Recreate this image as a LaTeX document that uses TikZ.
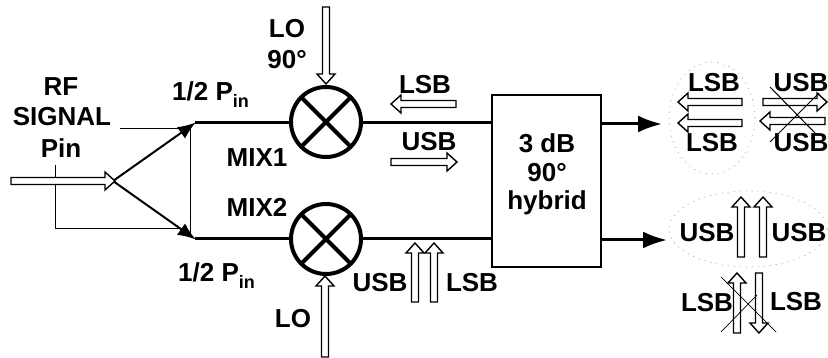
\documentclass[tikz,border=0pt]{standalone}
\usepackage{fontspec}
\setmainfont{Liberation Sans}
\usepackage{tikz}
\usetikzlibrary{arrows.meta,shapes.arrows,shapes.geometric,positioning,calc}

\newcommand{\Pin}{1/2 P\raisebox{-7pt}{\fontsize{18}{18}\selectfont in}}

\begin{document}
\begin{tikzpicture}[
    x=1pt, y=-1pt,
    lab/.style={inner sep=0pt, font=\fontsize{26}{30}\selectfont\bfseries},
    hollow/.style={draw, single arrow, fill=white, line width=1.4pt, inner xsep=0pt, inner ysep=2.8pt, outer sep=0pt, single arrow head extend=5.5pt, single arrow head indent=0pt, single arrow tip angle=84, anchor=tail},
    mixer/.style={draw, circle, line width=4pt, minimum size=70pt, inner sep=0pt, outer sep=0pt, path picture={\draw[line width=4pt] (path picture bounding box.north west) -- (path picture bounding box.south east) (path picture bounding box.south west) -- (path picture bounding box.north east);}},
    hybridbox/.style={draw, line width=2.5pt, minimum width=109pt, minimum height=172pt, inner sep=0pt, outer sep=0pt},
    wire/.style={line width=3pt},
    split/.style={-{Latex[length=18pt,width=14pt]}, line width=2pt, shorten >=-1pt},
    outarr/.style={-{Latex[length=24pt,width=17pt]}, line width=3pt},
    thinline/.style={line width=1pt},
    lobe/.style={dash pattern=on 1pt off 5pt, line width=0.6pt, black!40}
]
\useasboundingbox (0,0) rectangle (828,358);

% dotted lobes
\node[lobe, draw, ellipse, minimum width=86pt, minimum height=112pt, inner sep=0pt] (lobeA) at (712,118) {};
\node[lobe, draw, ellipse, minimum width=158pt, minimum height=76pt, inner sep=0pt] (lobeB) at (748,229) {};

% mixers and hybrid
\node[mixer] (mix1) at (326,122) {};
\node[mixer] (mix2) at (326,239) {};
\node[hybridbox] (hyb) at (546.5,181) {};
\node[lab] (hybA) at (547,143) {3 dB};
\node[lab] (hybB) at (547,173) {90\textdegree};
\node[lab] (hybC) at (547,203) {hybrid};

% splitter
\coordinate (fork) at (113,181);
\coordinate (upin) at (195,123);
\coordinate (lowin) at (195,239);
\draw[split] (fork) -- (upin);
\draw[split] (fork) -- (lowin);
\draw[wire] (upin) -- (mix1.west |- upin);
\draw[wire] (lowin) -- (mix2.west);
\draw[wire] (mix1.east |- upin) -- (hyb.west |- upin);
\draw[wire] (mix2.east) -- (hyb.west |- mix2);
\coordinate (vtop) at (190,126);
\coordinate (vbot) at (190,236);
\draw[thinline] (vtop) -- (vbot);

% leaders
\coordinate (leadA) at (120,129);
\coordinate (leadAe) at (181,129);
\coordinate (leadB) at (55,165);
\coordinate (leadBc) at (55,229);
\coordinate (leadBe) at (181,229);
\draw[thinline] (leadA) -- (leadAe);
\draw[thinline] (leadB) -- (leadBc) -- (leadBe);

% outputs
\coordinate (outA) at (662,124);
\coordinate (outB) at (667,240);
\draw[outarr] (hyb.east |- outA) -- (outA);
\draw[outarr] (hyb.east |- outB) -- (outB);

% hollow arrows
\node[hollow, minimum height=104pt] (rfin) at (11,181) {};
\node[hollow, minimum height=77pt, rotate=-90] (loA) at (326,7) {};
\node[hollow, minimum height=81pt, rotate=90] (loB) at (325,357) {};
\node[hollow, minimum height=65pt, rotate=180] (lsbA) at (456,104) {};
\node[hollow, minimum height=66pt] (usbA) at (391,162) {};
\node[hollow, minimum height=59pt, rotate=90] (upA) at (415,302) {};
\node[hollow, minimum height=59pt, rotate=90] (upB) at (434,302) {};

\node[hollow, minimum height=64pt, rotate=180] (lsbB) at (742,102) {};
\node[hollow, minimum height=64pt, rotate=180] (lsbC) at (742,123) {};
\node[hollow, minimum height=64pt] (usbB) at (763,102) {};
\node[hollow, minimum height=65pt, rotate=180] (usbC) at (825,121) {};
\node[hollow, minimum height=60pt, rotate=90] (upC) at (741,257) {};
\node[hollow, minimum height=60pt, rotate=90] (upD) at (763,257) {};
\node[hollow, minimum height=60pt, rotate=90] (upE) at (737,333) {};
\node[hollow, minimum height=60pt, rotate=-90] (downA) at (759,273) {};

% labels
\node[lab] (rf) at (61,87) {RF};
\node[lab] (sig) at (62,117) {SIGNAL};
\node[lab] (pin) at (61,148) {Pin};
\node[lab] (loTop) at (287,29) {LO};
\node[lab] (loDeg) at (287,60) {90\textdegree};
\node[lab] (loBot) at (293,319) {LO};
\node[lab, anchor=base west] (halfA) at (172,101) {\Pin};
\node[lab, anchor=base west] (halfB) at (178,282) {\Pin};
\node[lab] (mixA) at (257,158) {MIX1};
\node[lab] (mixB) at (257,207) {MIX2};
\node[lab] (lLsb) at (425,85) {LSB};
\node[lab] (lUsb) at (429,142) {USB};
\node[lab] (bUsb) at (380,283) {USB};
\node[lab] (bLsb) at (472,283) {LSB};
\node[lab] (rLsbA) at (714,83) {LSB};
\node[lab] (rLsbB) at (712,143) {LSB};
\node[lab] (rUsbA) at (801,83) {USB};
\node[lab] (rUsbB) at (801,143) {USB};
\node[lab] (uUsbA) at (707,233) {USB};
\node[lab] (uUsbB) at (799,233) {USB};
\node[lab] (dLsbA) at (707,303) {LSB};
\node[lab] (dLsbB) at (796,302) {LSB};

% crossed out pairs
\coordinate (xA) at (770,87);
\coordinate (xB) at (815,133);
\coordinate (xC) at (770,142);
\coordinate (xD) at (819,93);
\draw[thinline] (xA) -- (xB);
\draw[thinline] (xC) -- (xD);
\coordinate (xE) at (721,277);
\coordinate (xF) at (776,332);
\coordinate (xG) at (721,332);
\coordinate (xH) at (757,295);
\draw[line width=0.7pt] (xE) -- (xF);
\draw[line width=0.7pt] (xG) -- (xH);
\end{tikzpicture}
\end{document}
